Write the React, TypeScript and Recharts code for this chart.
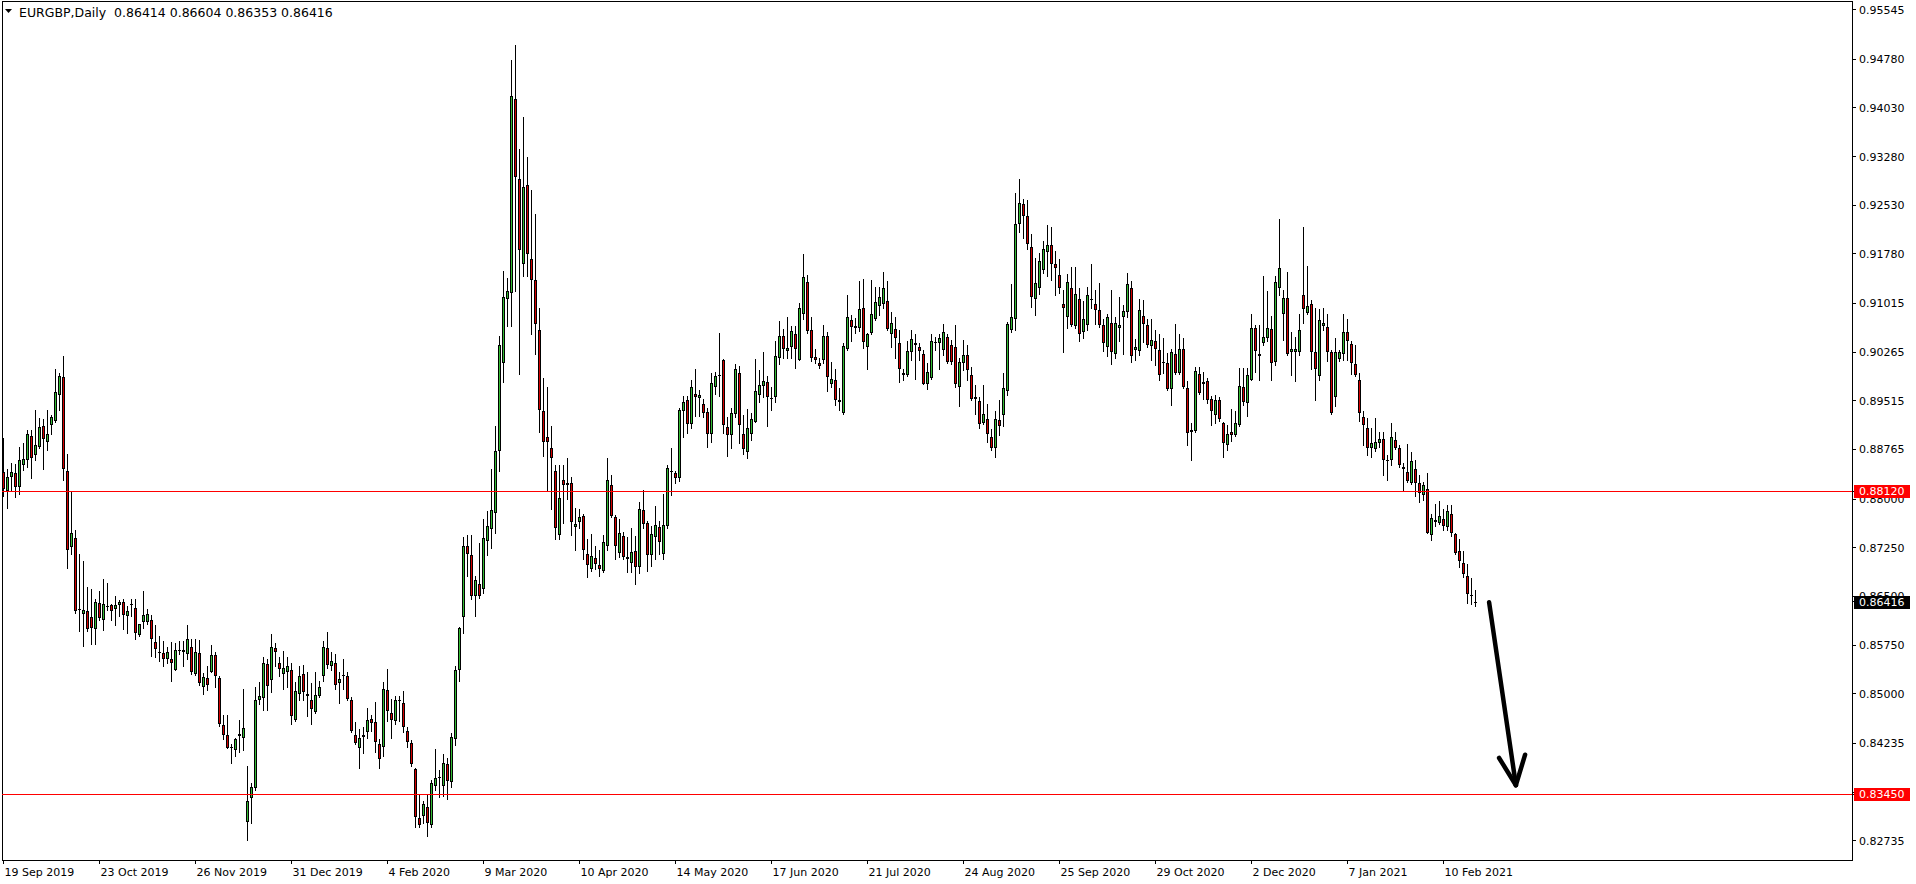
import React from 'react';
import { ComposedChart, Bar, XAxis, YAxis, ReferenceLine, ReferenceArea } from 'recharts';

const FONT = '"DejaVu Sans", Verdana, sans-serif';
const GREEN = '#33bb33';
const RED = '#d40000';

const SYMBOL = 'EURGBP,Daily';

// Daily OHLC, bar 0 = 19 Sep 2019 ... bar 368 = 22 Feb 2021
const opens = [
  0.8841,0.8813,0.8834,0.8840,0.8818,0.8853,0.8860,0.8897,0.8868,0.8881,
  0.8912,0.8888,0.8914,0.8921,0.8961,0.8988,0.8844,0.8726,0.8740,0.8631,
  0.8623,0.8627,0.8618,0.8600,0.8640,0.8613,0.8634,0.8636,0.8631,0.8636,
  0.8642,0.8620,0.8636,0.8632,0.8591,0.8610,0.8611,0.8613,0.8580,0.8564,
  0.8562,0.8553,0.8554,0.8537,0.8567,0.8567,0.8561,0.8572,0.8531,0.8562,
  0.8511,0.8524,0.8534,0.8560,0.8524,0.8452,0.8437,0.8418,0.8414,0.8438,
  0.8431,0.8303,0.8339,0.8354,0.8490,0.8494,0.8546,0.8521,0.8570,0.8547,
  0.8531,0.8533,0.8536,0.8460,0.8499,0.8530,0.8496,0.8491,0.8472,0.8496,
  0.8528,0.8571,0.8542,0.8548,0.8516,0.8527,0.8528,0.8491,0.8436,0.8417,
  0.8434,0.8441,0.8461,0.8456,0.8422,0.8418,0.8505,0.8470,0.8458,0.8491,
  0.8486,0.8443,0.8424,0.8384,0.8308,0.8312,0.8325,0.8298,0.8358,0.8370,
  0.8358,0.8391,0.8364,0.8430,0.8536,0.8619,0.8727,0.8714,0.8650,0.8669,
  0.8662,0.8735,0.8754,0.8778,0.8874,0.9010,0.9109,0.9118,0.9416,0.9294,
  0.9163,0.9284,0.9170,0.9138,0.9060,0.8935,0.8895,0.8878,0.8844,0.8745,
  0.8830,0.8821,0.8825,0.8757,0.8765,0.8774,0.8716,0.8692,0.8709,0.8699,
  0.8689,0.8727,0.8821,0.8772,0.8717,0.8743,0.8710,0.8702,0.8720,0.8695,
  0.8783,0.8763,0.8714,0.8742,0.8757,0.8716,0.8759,0.8844,0.8840,0.8833,
  0.8935,0.8952,0.8916,0.8962,0.8956,0.8946,0.8934,0.8900,0.8973,0.8989,
  0.9015,0.8911,0.8898,0.8931,0.8994,0.8900,0.8873,0.8901,0.8919,0.8961,
  0.8975,0.8980,0.8956,0.8958,0.9018,0.9052,0.9029,0.9034,0.9054,0.9015,
  0.9086,0.9134,0.9060,0.9019,0.9009,0.9014,0.9052,0.8977,0.8983,0.8949,
  0.8933,0.9031,0.9076,0.9063,0.9063,0.9094,0.9035,0.9056,0.9077,0.9098,
  0.9100,0.9106,0.9055,0.9062,0.9040,0.8991,0.8991,0.9026,0.9038,0.9034,
  0.9023,0.8978,0.8986,0.9040,0.9040,0.9030,0.9050,0.9038,0.9035,0.8973,
  0.9009,0.9022,0.8992,0.8954,0.8951,0.8917,0.8924,0.8895,0.8878,0.8922,
  0.8930,0.8966,0.9061,0.9078,0.9224,0.9255,0.9236,0.9188,0.9108,0.9125,
  0.9153,0.9181,0.9191,0.9163,0.9146,0.9100,0.9081,0.9125,0.9066,0.9108,
  0.9057,0.9069,0.9107,0.9100,0.9092,0.9069,0.9035,0.9072,0.9023,0.9063,
  0.9081,0.9089,0.9126,0.9030,0.9029,0.9082,0.9068,0.9036,0.9044,0.9030,
  0.9011,0.9009,0.8969,0.9023,0.8995,0.9032,0.8971,0.8903,0.8905,0.8993,
  0.8980,0.8982,0.8954,0.8929,0.8953,0.8917,0.8884,0.8904,0.8899,0.8914,
  0.8972,0.8948,0.8983,0.9063,0.9023,0.9040,0.9049,0.9062,0.9012,0.9126,
  0.9086,0.9110,0.9026,0.9027,0.9027,0.9114,0.9087,0.9100,0.9026,0.8989,
  0.9067,0.9065,0.9027,0.8958,0.9016,0.9023,0.9057,0.9039,0.9008,0.8983,
  0.8927,0.8909,0.8878,0.8877,0.8886,0.8892,0.8861,0.8860,0.8891,0.8878,
  0.8849,0.8841,0.8825,0.8847,0.8825,0.8806,0.8815,0.8745,0.8765,0.8763,
  0.8769,0.8757,0.8777,0.8746,0.8720,0.8702,0.8681,0.8652,0.86414,
];

const highs = [
  0.8894,0.8846,0.8855,0.8854,0.8881,0.8886,0.8906,0.8907,0.8937,0.8925,
  0.8923,0.8938,0.8930,0.9001,0.8995,0.9021,0.8869,0.8812,0.8752,0.8716,
  0.8705,0.8665,0.8662,0.8646,0.8659,0.8677,0.8671,0.8639,0.8651,0.8644,
  0.8646,0.8635,0.8646,0.8646,0.8608,0.8658,0.8630,0.8621,0.8606,0.8589,
  0.8581,0.8572,0.8579,0.8578,0.8582,0.8581,0.8606,0.8584,0.8584,0.8583,
  0.8532,0.8543,0.8575,0.8564,0.8527,0.8467,0.8467,0.8422,0.8432,0.8460,
  0.8508,0.8388,0.8363,0.8510,0.8518,0.8556,0.8553,0.8592,0.8578,0.8556,
  0.8566,0.8556,0.8548,0.8518,0.8543,0.8545,0.8533,0.8517,0.8534,0.8520,
  0.8581,0.8595,0.8564,0.8561,0.8534,0.8554,0.8534,0.8495,0.8456,0.8445,
  0.8449,0.8478,0.8467,0.8487,0.8430,0.8518,0.8538,0.8492,0.8497,0.8497,
  0.8504,0.8448,0.8429,0.8386,0.8345,0.8335,0.8346,0.8367,0.8415,0.8383,
  0.8407,0.8401,0.8440,0.8542,0.8603,0.8742,0.8745,0.8745,0.8681,0.8733,
  0.8769,0.8781,0.8847,0.8913,0.9051,0.9151,0.9141,0.9476,0.9500,0.9339,
  0.9389,0.9328,0.9277,0.9240,0.9094,0.8987,0.8972,0.8912,0.8852,0.8853,
  0.8853,0.8864,0.8834,0.8787,0.8784,0.8777,0.8739,0.8746,0.8728,0.8721,
  0.8744,0.8864,0.8837,0.8776,0.8769,0.8749,0.8741,0.8755,0.8743,0.8796,
  0.8814,0.8766,0.8758,0.8790,0.8766,0.8808,0.8853,0.8878,0.8844,0.8940,
  0.8959,0.8959,0.8983,0.9000,0.8968,0.8954,0.8941,0.8995,0.8996,0.9056,
  0.9016,0.8926,0.8940,0.9008,0.9005,0.8930,0.8939,0.8932,0.9016,0.8999,
  0.9026,0.8989,0.8973,0.9044,0.9074,0.9062,0.9080,0.9067,0.9067,0.9102,
  0.9177,0.9145,0.9080,0.9032,0.9018,0.9068,0.9058,0.9011,0.9000,0.8971,
  0.9040,0.9115,0.9083,0.9079,0.9136,0.9139,0.9056,0.9138,0.9127,0.9127,
  0.9150,0.9136,0.9089,0.9080,0.9061,0.9001,0.9043,0.9061,0.9054,0.9040,
  0.9030,0.9009,0.9054,0.9050,0.9054,0.9070,0.9055,0.9045,0.9069,0.9018,
  0.9045,0.9038,0.9004,0.8976,0.8958,0.8976,0.8947,0.8908,0.8936,0.8953,
  0.8995,0.9073,0.9132,0.9272,0.9293,0.9263,0.9261,0.9208,0.9172,0.9180,
  0.9198,0.9222,0.9219,0.9182,0.9170,0.9122,0.9147,0.9157,0.9157,0.9125,
  0.9105,0.9127,0.9163,0.9123,0.9133,0.9078,0.9086,0.9122,0.9081,0.9111,
  0.9099,0.9149,0.9136,0.9046,0.9108,0.9107,0.9078,0.9078,0.9061,0.9054,
  0.9049,0.9025,0.9031,0.9070,0.9055,0.9049,0.8982,0.8918,0.9004,0.9004,
  0.8996,0.8987,0.8959,0.8960,0.8958,0.8919,0.8914,0.8939,0.8935,0.9002,
  0.9002,0.9002,0.9085,0.9068,0.9068,0.9144,0.9120,0.9082,0.9144,0.9232,
  0.9122,0.9150,0.9057,0.9050,0.9085,0.9219,0.9159,0.9107,0.9095,0.9093,
  0.9094,0.9086,0.9030,0.9048,0.9030,0.9086,0.9078,0.9044,0.9038,0.8995,
  0.8936,0.8925,0.8909,0.8925,0.8904,0.8904,0.8868,0.8918,0.8904,0.8883,
  0.8855,0.8885,0.8873,0.8860,0.8837,0.8827,0.8840,0.8777,0.8792,0.8797,
  0.8785,0.8791,0.8791,0.8748,0.8738,0.8720,0.8700,0.8678,0.86604,
];

const lows = [
  0.8804,0.8787,0.8814,0.8803,0.8808,0.8845,0.8850,0.8832,0.8860,0.8878,
  0.8847,0.8875,0.8900,0.8919,0.8938,0.8829,0.8694,0.8715,0.8625,0.8597,
  0.8574,0.8597,0.8577,0.8577,0.8613,0.8598,0.8629,0.8613,0.8606,0.8620,
  0.8600,0.8594,0.8620,0.8585,0.8589,0.8602,0.8608,0.8558,0.8557,0.8551,
  0.8543,0.8548,0.8520,0.8537,0.8561,0.8543,0.8553,0.8531,0.8529,0.8514,
  0.8499,0.8506,0.8533,0.8511,0.8450,0.8430,0.8417,0.8393,0.8404,0.8410,
  0.8414,0.8275,0.8300,0.8352,0.8484,0.8475,0.8475,0.8503,0.8542,0.8527,
  0.8507,0.8511,0.8453,0.8458,0.8490,0.8490,0.8465,0.8454,0.8471,0.8495,
  0.8520,0.8539,0.8537,0.8507,0.8486,0.8508,0.8490,0.8441,0.8423,0.8386,
  0.8408,0.8432,0.8443,0.8410,0.8386,0.8404,0.8458,0.8432,0.8454,0.8458,
  0.8441,0.8418,0.8389,0.8294,0.8295,0.8301,0.8280,0.8294,0.8352,0.8341,
  0.8343,0.8337,0.8356,0.8421,0.8520,0.8594,0.8682,0.8646,0.8620,0.8648,
  0.8656,0.8714,0.8725,0.8747,0.8843,0.8980,0.9066,0.9067,0.9121,0.8993,
  0.9144,0.9144,0.9054,0.9024,0.8903,0.8866,0.8812,0.8784,0.8739,0.8739,
  0.8763,0.8800,0.8745,0.8722,0.8755,0.8707,0.8680,0.8689,0.8692,0.8682,
  0.8688,0.8722,0.8772,0.8707,0.8710,0.8707,0.8688,0.8688,0.8669,0.8686,
  0.8756,0.8689,0.8697,0.8708,0.8716,0.8708,0.8756,0.8806,0.8825,0.8828,
  0.8895,0.8902,0.8909,0.8928,0.8928,0.8927,0.8880,0.8888,0.8962,0.8959,
  0.8902,0.8866,0.8879,0.8926,0.8886,0.8870,0.8864,0.8891,0.8919,0.8949,
  0.8958,0.8912,0.8937,0.8950,0.9008,0.9018,0.9018,0.9018,0.9002,0.9015,
  0.9078,0.9056,0.9013,0.9010,0.9002,0.9009,0.8967,0.8973,0.8945,0.8937,
  0.8931,0.9030,0.9044,0.9056,0.9059,0.9033,0.9001,0.9055,0.9076,0.9084,
  0.9094,0.9060,0.9035,0.9017,0.8981,0.8983,0.8989,0.9014,0.8985,0.9015,
  0.8977,0.8969,0.8985,0.9030,0.9001,0.9022,0.9009,0.9008,0.8973,0.8944,
  0.8999,0.8984,0.8953,0.8931,0.8909,0.8916,0.8888,0.8875,0.8865,0.8899,
  0.8913,0.8960,0.9058,0.9060,0.9211,0.9202,0.9185,0.9096,0.9083,0.9116,
  0.9148,0.9144,0.9138,0.9114,0.9118,0.9027,0.9063,0.9067,0.9064,0.9044,
  0.9048,0.9061,0.9094,0.9070,0.9065,0.9028,0.9020,0.9008,0.9017,0.9044,
  0.9023,0.9080,0.9012,0.9015,0.9022,0.9042,0.9035,0.9014,0.9007,0.8984,
  0.8995,0.8968,0.8945,0.8993,0.8993,0.8971,0.8883,0.8860,0.8904,0.8962,
  0.8954,0.8948,0.8914,0.8918,0.8921,0.8865,0.8875,0.8890,0.8897,0.8913,
  0.8945,0.8928,0.8983,0.8996,0.8983,0.9038,0.9043,0.8984,0.9007,0.9115,
  0.9045,0.9022,0.8991,0.8982,0.9022,0.9071,0.9085,0.9001,0.8953,0.8983,
  0.9060,0.9013,0.8931,0.8944,0.9013,0.9015,0.9014,0.8993,0.8990,0.8920,
  0.8883,0.8868,0.8865,0.8874,0.8881,0.8837,0.8830,0.8853,0.8877,0.8849,
  0.8812,0.8827,0.8824,0.8804,0.8795,0.8798,0.8747,0.8737,0.8759,0.8761,
  0.8752,0.8752,0.8743,0.8715,0.8696,0.8680,0.8640,0.8639,0.86353,
];

const closes = [
  0.8815,0.8834,0.8841,0.8819,0.8860,0.8862,0.8901,0.8863,0.8883,0.8911,
  0.8892,0.8900,0.8927,0.8965,0.8989,0.8846,0.8721,0.8748,0.8628,0.8629,
  0.8629,0.8600,0.8602,0.8641,0.8616,0.8639,0.8635,0.8627,0.8637,0.8641,
  0.8622,0.8627,0.8638,0.8594,0.8607,0.8622,0.8623,0.8584,0.8569,0.8562,
  0.8554,0.8564,0.8547,0.8568,0.8566,0.8565,0.8584,0.8534,0.8565,0.8517,
  0.8526,0.8514,0.8560,0.8527,0.8453,0.8437,0.8417,0.8417,0.8430,0.8435,
  0.8447,0.8335,0.8356,0.8491,0.8496,0.8548,0.8512,0.8572,0.8564,0.8538,
  0.8539,0.8542,0.8466,0.8504,0.8528,0.8502,0.8499,0.8477,0.8498,0.8511,
  0.8572,0.8545,0.8550,0.8514,0.8522,0.8529,0.8492,0.8442,0.8424,0.8431,
  0.8437,0.8460,0.8455,0.8425,0.8400,0.8508,0.8474,0.8459,0.8491,0.8489,
  0.8448,0.8425,0.8391,0.8310,0.8298,0.8330,0.8300,0.8362,0.8370,0.8371,
  0.8393,0.8366,0.8433,0.8536,0.8601,0.8727,0.8716,0.8650,0.8675,0.8650,
  0.8740,0.8758,0.8783,0.8874,0.9038,0.9111,0.9120,0.9421,0.9297,0.9184,
  0.9281,0.9178,0.9137,0.9070,0.8938,0.8888,0.8888,0.8864,0.8756,0.8801,
  0.8821,0.8825,0.8765,0.8762,0.8772,0.8722,0.8698,0.8712,0.8700,0.8692,
  0.8734,0.8830,0.8774,0.8728,0.8748,0.8710,0.8708,0.8718,0.8695,0.8784,
  0.8762,0.8714,0.8746,0.8760,0.8734,0.8760,0.8848,0.8841,0.8832,0.8937,
  0.8950,0.8916,0.8972,0.8958,0.8960,0.8932,0.8900,0.8979,0.8989,0.8991,
  0.8914,0.8898,0.8933,0.9000,0.8914,0.8877,0.8909,0.8924,0.8967,0.8976,
  0.8982,0.8958,0.8955,0.9020,0.9051,0.9031,0.9033,0.9059,0.9032,0.9094,
  0.9142,0.9059,0.9018,0.9014,0.9005,0.9052,0.8988,0.8985,0.8952,0.8953,
  0.9036,0.9080,0.9065,0.9067,0.9093,0.9042,0.9054,0.9085,0.9104,0.9112,
  0.9125,0.9062,0.9072,0.9048,0.9001,0.8995,0.9029,0.9047,0.9040,0.9029,
  0.8978,0.8996,0.9043,0.9042,0.9049,0.9058,0.9012,0.9011,0.8977,0.9012,
  0.9022,0.8999,0.8955,0.8957,0.8916,0.8931,0.8900,0.8878,0.8924,0.8913,
  0.8971,0.9070,0.9080,0.9224,0.9257,0.9236,0.9193,0.9112,0.9133,0.9167,
  0.9185,0.9192,0.9163,0.9156,0.9125,0.9094,0.9135,0.9068,0.9116,0.9055,
  0.9077,0.9114,0.9108,0.9092,0.9068,0.9040,0.9080,0.9027,0.9072,0.9068,
  0.9090,0.9131,0.9021,0.9034,0.9091,0.9070,0.9038,0.9045,0.9031,0.8992,
  0.9009,0.8970,0.9026,0.8994,0.9031,0.8973,0.8902,0.8906,0.8997,0.8964,
  0.8978,0.8953,0.8935,0.8953,0.8923,0.8887,0.8900,0.8898,0.8917,0.8975,
  0.8950,0.8992,0.9063,0.9029,0.9021,0.9050,0.9063,0.9010,0.9134,0.9156,
  0.9110,0.9024,0.9031,0.9031,0.9060,0.9093,0.9098,0.9027,0.9000,0.9076,
  0.9072,0.9027,0.8933,0.9027,0.9026,0.9057,0.9044,0.9010,0.8992,0.8933,
  0.8914,0.8878,0.8886,0.8888,0.8893,0.8861,0.8859,0.8895,0.8878,0.8852,
  0.8847,0.8828,0.8858,0.8825,0.8810,0.8822,0.8748,0.8771,0.8768,0.8774,
  0.8758,0.8782,0.8747,0.8717,0.8705,0.8685,0.8653,0.8650,0.86416,
];

// x-axis date labels and the bar index they sit on
const tickIdx = [0, 24, 48, 72, 96, 120, 144, 168, 192, 216, 240, 264, 288, 312, 336, 360];
const tickLabels = [
  '19 Sep 2019', '23 Oct 2019', '26 Nov 2019', '31 Dec 2019', '4 Feb 2020', '9 Mar 2020',
  '10 Apr 2020', '14 May 2020', '17 Jun 2020', '21 Jul 2020', '24 Aug 2020', '25 Sep 2020',
  '29 Oct 2020', '2 Dec 2020', '7 Jan 2021', '10 Feb 2021',
];

// price scale labels
const priceTicks = [
  0.95545, 0.9478, 0.9403, 0.9328, 0.9253, 0.9178, 0.91015, 0.90265, 0.89515,
  0.88765, 0.88, 0.8725, 0.865, 0.8575, 0.85, 0.84235, 0.83485, 0.82735,
];

// horizontal levels drawn on the chart
const levels = [0.8812, 0.8345];

// hand-drawn arrow (bar index, price)
const arrowShaft = [{ x: 371.4, y: 0.8641 }, { x: 378.1, y: 0.8359 }];
const arrowHeadLeft = [{ x: 373.9, y: 0.8401 }, { x: 378.1, y: 0.8359 }];
const arrowHeadRight = [{ x: 380.4, y: 0.8406 }, { x: 378.1, y: 0.8359 }];

const X_DOMAIN: [number, number] = [-0.375, 462.125];
const Y_DOMAIN: [number, number] = [0.82437, 0.95677];

const n = Math.min(opens.length, highs.length, lows.length, closes.length);
const data = opens.slice(0, n).map((o, i) => ({ i, o, h: highs[i], l: lows[i], c: closes[i] }));
const last = n - 1;
const lastClose = closes[last];

const markers = [
  { value: levels[0], bg: '#ff0000' },
  { value: lastClose, bg: '#000000' },
  { value: levels[1], bg: '#ff0000' },
];

const Candle = (props: any) => {
  const { x, y, width, height, payload } = props;
  if (!payload || typeof x !== 'number' || typeof y !== 'number') return null;
  const { o, h, l, c } = payload;
  const top = Math.min(y, y + height);
  const span = Math.abs(height);
  const k = h > l ? span / (h - l) : 0;
  const cx = Math.floor(x + width / 2) + 0.5;
  const yO = top + (h - o) * k;
  const yC = top + (h - c) * k;
  const bTop = Math.round(Math.min(yO, yC));
  const bBot = Math.round(Math.max(yO, yC));
  const up = c >= o;
  const wTop = Math.round(top);
  const wBot = Math.round(top + span);
  return (
    <g shapeRendering="crispEdges">
      <line x1={cx} x2={cx} y1={wTop} y2={wBot + 1} stroke="#000" strokeWidth={1} />
      {bBot - bTop >= 2 ? (
        <rect x={cx - 1} y={bTop + 0.5} width={2} height={bBot - bTop - 1} fill={up ? GREEN : RED} stroke="#000" strokeWidth={1} />
      ) : (
        <line x1={cx - 1.5} x2={cx + 1.5} y1={bTop + 0.5} y2={bTop + 0.5} stroke="#000" strokeWidth={1} />
      )}
    </g>
  );
};

const YTick = (props: any) => {
  const { x, y, payload } = props;
  const v = payload.value as number;
  const m = markers.find((mk) => Math.abs(mk.value - v) < 1e-9);
  if (m) {
    return (
      <g>
        <rect x={x - 4} y={Math.round(y) - 6} width={56} height={13} fill={m.bg} />
        <text x={x + 1} y={y + 4} fill="#ffffff" fontSize={11} fontFamily={FONT}>{v.toFixed(5)}</text>
      </g>
    );
  }
  return (
    <text x={x + 1} y={y + 4} fill="#000" fontSize={11} fontFamily={FONT}>{v.toFixed(5)}</text>
  );
};

const XTick = (props: any) => {
  const { x, y, payload } = props;
  const k = tickIdx.indexOf(payload.value);
  return (
    <text x={x + 1} y={y + 10} fill="#000" fontSize={11} fontFamily={FONT}>{k >= 0 ? tickLabels[k] : ''}</text>
  );
};

export default function App() {
  const header = `${SYMBOL}  ${opens[last].toFixed(5)} ${highs[last].toFixed(5)} ${lows[last].toFixed(5)} ${closes[last].toFixed(5)}`;
  return (
    <div style={{ position: 'absolute', left: 0, top: 0, width: 1916, height: 884, background: '#fff' }}>
      <ComposedChart
        width={1916}
        height={884}
        data={data}
        margin={{ top: 1, right: 0, bottom: 0, left: 2 }}
      >
        <XAxis
          type="number"
          dataKey="i"
          domain={X_DOMAIN}
          allowDataOverflow
          ticks={tickIdx}
          interval={0}
          tickSize={4}
          height={24}
          axisLine={{ stroke: '#000', shapeRendering: 'crispEdges' }}
          tickLine={{ stroke: '#000', shapeRendering: 'crispEdges' }}
          tick={<XTick />}
        />
        <YAxis
          type="number"
          orientation="right"
          domain={Y_DOMAIN}
          allowDataOverflow
          ticks={[...priceTicks, ...markers.map((m) => m.value)]}
          interval={0}
          tickSize={4}
          width={64}
          axisLine={{ stroke: '#000', shapeRendering: 'crispEdges' }}
          tickLine={{ stroke: '#000', shapeRendering: 'crispEdges' }}
          tick={<YTick />}
        />
        <ReferenceArea
          x1={X_DOMAIN[0]}
          x2={X_DOMAIN[1]}
          y1={Y_DOMAIN[0]}
          y2={Y_DOMAIN[1]}
          fill="none"
          fillOpacity={0}
          stroke="#000"
          strokeWidth={1}
          shapeRendering="crispEdges"
        />
        {levels.map((lv) => (
          <ReferenceLine key={lv} y={lv} stroke="#ff0000" strokeWidth={1} shapeRendering="crispEdges" />
        ))}
        <Bar
          dataKey={(d: any) => [d.l, d.h]}
          barSize={3}
          shape={<Candle />}
          isAnimationActive={false}
        />
        {[arrowShaft, arrowHeadLeft, arrowHeadRight].map((seg, k) => (
          <ReferenceLine key={`arrow${k}`} segment={seg} stroke="#000" strokeWidth={4.5} strokeLinecap="round" />
        ))}
      </ComposedChart>
      <svg style={{ position: 'absolute', left: 0, top: 0, pointerEvents: 'none' }} width={460} height={22}>
        <polygon points="5,9 12,9 8.5,13" fill="#000" />
        <text x={19} y={16.5} fontFamily={FONT} fontSize={12.5} fill="#000" style={{ whiteSpace: 'pre' }}>{header}</text>
      </svg>
    </div>
  );
}
